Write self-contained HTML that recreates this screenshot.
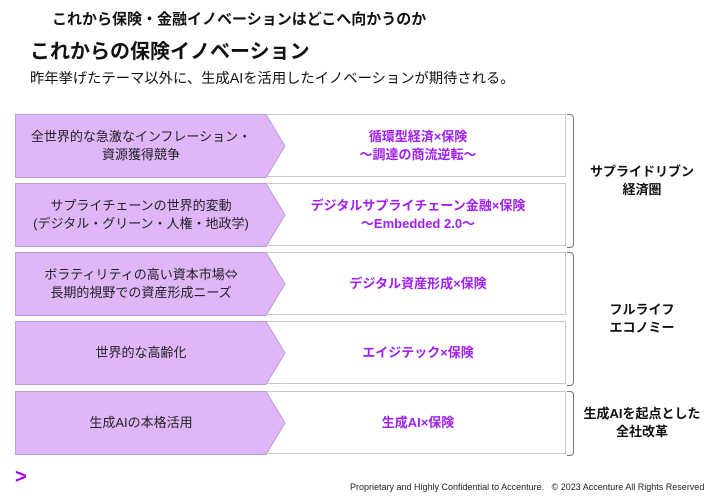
<!DOCTYPE html>
<html><head><meta charset="utf-8"><style>
body{margin:0;width:712px;height:498px;background:#fff;position:relative;overflow:hidden;font-family:"Liberation Sans","Noto Sans CJK JP",sans-serif;color:#111}
.t{position:absolute;white-space:nowrap}
.row{position:absolute;left:15px;width:551px;height:63px;border:1px solid #c8c8c8;box-sizing:border-box;background:#fff}
.row svg{position:absolute;left:-1px;top:-1px}
.lt{position:absolute;left:0;width:250px;top:0;height:61px;display:flex;align-items:center;justify-content:center;text-align:center;font-size:13px;line-height:18px;color:#222}
.rt{position:absolute;left:255px;right:0;top:0;height:61px;display:flex;align-items:center;justify-content:center;text-align:center;font-size:13px;line-height:18px;color:#a020f0;font-weight:bold}
.br{position:absolute;left:567px;width:6px;border:1.5px solid #777;border-left:none;border-radius:0 4px 4px 0}
.bt{position:absolute;text-align:center;font-weight:bold;font-size:13px;line-height:18px;width:130px;left:577px}
</style></head><body>
<div class="t" style="left:52px;top:8px;font-size:15px;font-weight:bold">これから保険・金融イノベーションはどこへ向かうのか</div>
<div class="t" style="left:30px;top:35px;font-size:20px;font-weight:bold">これからの保険イノベーション</div>
<div class="t" style="left:30px;top:67px;font-size:14.3px">昨年挙げたテーマ以外に、生成AIを活用したイノベーションが期待される。</div>

<div class="row" style="top:114px"><svg width="290" height="64"><polygon points="0.5,0.5 251,0.5 270,32 251,63.5 0.5,63.5" fill="#dfb6f8" stroke="#b9a0c8"/></svg><div class="lt"><div>全世界的な急激なインフレーション・<br>資源獲得競争</div></div><div class="rt"><div>循環型経済×保険<br>～調達の商流逆転～</div></div></div>
<div class="row" style="top:183px"><svg width="290" height="64"><polygon points="0.5,0.5 251,0.5 270,32 251,63.5 0.5,63.5" fill="#dfb6f8" stroke="#b9a0c8"/></svg><div class="lt"><div>サプライチェーンの世界的変動<br>(デジタル・グリーン・人権・地政学)</div></div><div class="rt"><div>デジタルサプライチェーン金融×保険<br>～Embedded 2.0～</div></div></div>
<div class="row" style="top:252px"><svg width="290" height="64"><polygon points="0.5,0.5 251,0.5 270,32 251,63.5 0.5,63.5" fill="#dfb6f8" stroke="#b9a0c8"/></svg><div class="lt"><div>ボラティリティの高い資本市場<span style="font-family:'Noto Sans CJK JP',sans-serif">⇔</span><br>長期的視野での資産形成ニーズ</div></div><div class="rt"><div>デジタル資産形成×保険</div></div></div>
<div class="row" style="top:321px"><svg width="290" height="64"><polygon points="0.5,0.5 251,0.5 270,32 251,63.5 0.5,63.5" fill="#dfb6f8" stroke="#b9a0c8"/></svg><div class="lt"><div>世界的な高齢化</div></div><div class="rt"><div>エイジテック×保険</div></div></div>
<div class="row" style="top:391px"><svg width="290" height="64"><polygon points="0.5,0.5 251,0.5 270,32 251,63.5 0.5,63.5" fill="#dfb6f8" stroke="#b9a0c8"/></svg><div class="lt"><div>生成AIの本格活用</div></div><div class="rt"><div>生成AI×保険</div></div></div>

<div class="br" style="top:114px;height:132px"></div>
<div class="br" style="top:252px;height:132px"></div>
<div class="br" style="top:391px;height:63px"></div>
<div class="bt" style="top:163px">サプライドリブン<br>経済圏</div>
<div class="bt" style="top:301px">フルライフ<br>エコノミー</div>
<div class="bt" style="top:405px">生成AIを起点とした<br>全社改革</div>

<div class="t" style="left:15px;top:466px;font-size:20px;font-weight:bold;color:#a100ff">&gt;</div>
<div class="t" style="left:350px;top:482px;font-size:9px;color:#222">Proprietary and Highly Confidential to Accenture.&nbsp;&nbsp; © 2023 Accenture All Rights Reserved</div>
</body></html>
